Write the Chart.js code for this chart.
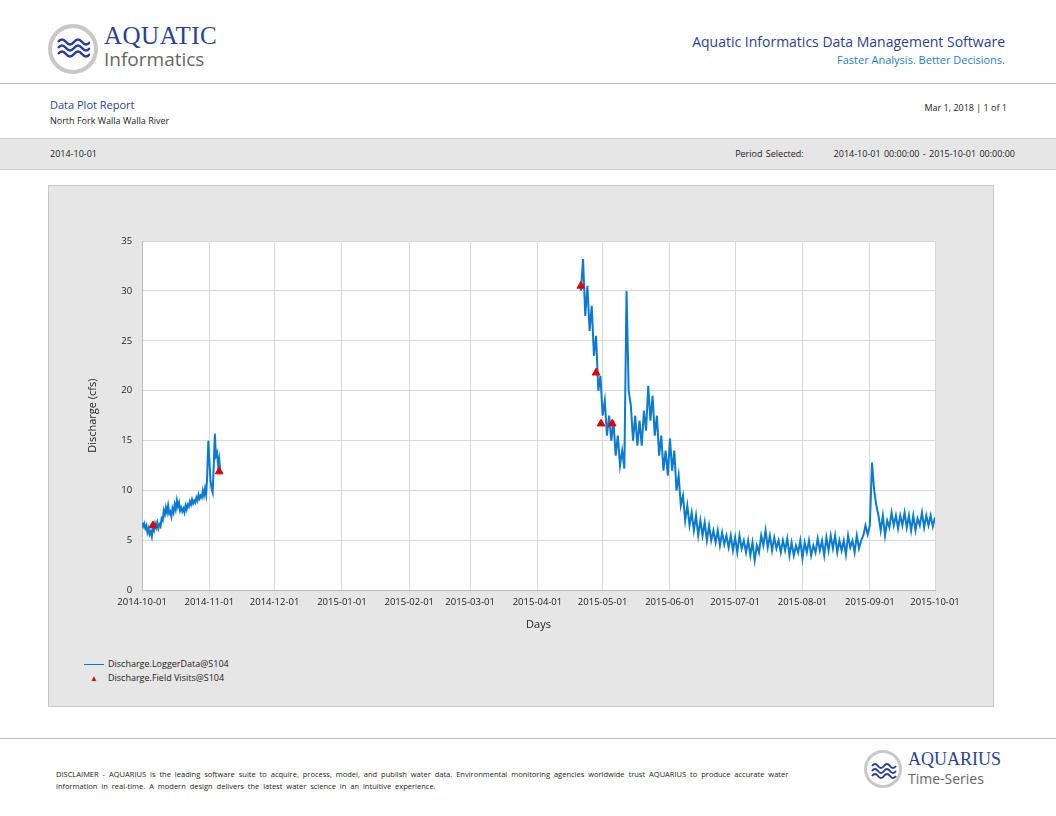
<!DOCTYPE html>
<html><head><meta charset="utf-8">
<script src="https://cdn.jsdelivr.net/npm/chart.js@4"></script>
<style>
body{margin:0;width:1056px;height:816px;background:#fff;font-family:"Open Sans",sans-serif;position:relative;overflow:hidden}
.abs{position:absolute}
.logo{border-radius:50%;border:4px solid #c8c8c8;background:#fff;box-sizing:border-box}
</style></head><body>
<div class="abs logo" style="left:48px;top:24px;width:50px;height:50px"></div>
<svg class="abs" style="left:56px;top:36px" width="34" height="24"><path d="M2 6 q4-5 8 0 t8 0 t8 0 t8 0 M2 12 q4-5 8 0 t8 0 t8 0 t8 0 M2 18 q4-5 8 0 t8 0 t8 0 t8 0" stroke="#2b3f94" stroke-width="2.5" fill="none"/></svg>
<div class="abs" style="left:104px;top:22px;font-size:25px;color:#2b3f94;font-family:'Liberation Serif',serif;letter-spacing:0.5px">AQUATIC</div>
<div class="abs" style="left:104px;top:46px;font-size:19px;color:#666;font-family:'Open Sans'">Informatics</div>
<div class="abs" style="right:51px;top:32px;font-size:14px;color:#2b3f94">Aquatic Informatics Data Management Software</div>
<div class="abs" style="right:51px;top:52px;font-size:11px;color:#1f7fc0">Faster Analysis. Better Decisions.</div>
<div class="abs" style="left:0;top:83px;width:1056px;height:1px;background:#bbb"></div>
<div class="abs" style="left:50px;top:97px;font-size:11px;color:#2b3f94">Data Plot Report</div>
<div class="abs" style="left:50px;top:114px;font-size:9px;color:#222">North Fork Walla Walla River</div>
<div class="abs" style="right:49px;top:101px;font-size:9px;color:#222">Mar 1, 2018 | 1 of 1</div>
<div class="abs" style="left:0;top:138px;width:1056px;height:30px;background:#e6e6e6;border-top:1px solid #ccc;border-bottom:1px solid #ccc"></div>
<div class="abs" style="left:50px;top:147px;font-size:9px;color:#222">2014-10-01</div>
<div class="abs" style="right:41px;top:147px;font-size:9px;color:#222;word-spacing:1px">Period Selected:&nbsp;&nbsp;&nbsp;&nbsp;&nbsp;&nbsp;&nbsp;&nbsp; 2014-10-01 00:00:00 - 2015-10-01 00:00:00</div>
<div class="abs" style="left:48px;top:185px;width:944px;height:520px;background:#e6e6e6;border:1px solid #c8c8c8"></div>
<div class="abs" style="left:49px;top:186px;width:944px;height:449px"><canvas id="c"></canvas></div>
<div class="abs" style="left:84px;top:657px;font-size:9px;color:#222"><span style="display:inline-block;width:20px;height:1px;background:#0a7bd0;vertical-align:middle;margin-right:4px"></span>Discharge.LoggerData@S104</div>
<div class="abs" style="left:84px;top:671px;font-size:9px;color:#222"><span style="display:inline-block;width:20px;text-align:center;color:#e00000;font-size:8px;margin-right:4px">▲</span>Discharge.Field Visits@S104</div>
<div class="abs" style="left:0;top:738px;width:1056px;height:1px;background:#bbb"></div>
<div class="abs" style="left:56px;top:768px;width:770px;font-size:7.5px;color:#222;line-height:12px;word-spacing:2px">DISCLAIMER - AQUARIUS is the leading software suite to acquire, process, model, and publish water data. Environmental monitoring agencies worldwide trust AQUARIUS to produce accurate water information in real-time. A modern design delivers the latest water science in an intuitive experience.</div>
<div class="abs logo" style="left:864px;top:750px;width:38px;height:38px;border-width:3px"></div>
<svg class="abs" style="left:871px;top:761px" width="26" height="18"><path d="M1 5 q3-4 6 0 t6 0 t6 0 t6 0 M1 10 q3-4 6 0 t6 0 t6 0 t6 0 M1 15 q3-4 6 0 t6 0 t6 0 t6 0" stroke="#2b3f94" stroke-width="2" fill="none"/></svg>
<div class="abs" style="left:908px;top:749px;font-size:18px;color:#2b3f94;font-family:'Liberation Serif',serif">AQUARIUS</div>
<div class="abs" style="left:908px;top:769px;font-size:14px;color:#666">Time-Series</div>
<script>
const monthTickDays=[0,31,61,92,123,151,182,212,243,273,304,335,365];
const monthTickLabels=["2014-10-01","2014-11-01","2014-12-01","2015-01-01","2015-02-01","2015-03-01","2015-04-01","2015-05-01","2015-06-01","2015-07-01","2015-08-01","2015-09-01","2015-10-01"];
const seg1Start=0, seg1Step=0.5;
const seg1Values=[6.8,6.4,6.7,6.2,6.5,5.8,6.2,5.6,5.9,5.4,6.3,6.0,6.7,6.3,6.8,6.2,6.6,6.4,7.2,7.0,8.0,7.6,8.3,7.8,8.5,7.7,7.9,7.4,8.2,7.8,8.6,8.1,9.0,8.4,8.8,8.0,8.3,7.9,8.2,7.8,8.5,8.1,8.6,8.4,8.9,8.6,9.1,8.7,9.0,8.8,9.3,9.0,9.6,9.2,9.5,9.3,10.0,9.5,10.2,9.6,11.5,15.0,13.0,11.0,10.2,9.8,12.5,15.7,13.5,13.8,12.5,13.2,11.9];
const seg2Start=202, seg2Step=1;
const seg2Values=[30.0,33.2,27.5,30.5,26.0,28.5,23.5,25.5,20.0,21.5,17.5,19.0,15.5,17.5,15.0,17.0,13.5,15.5,12.5,14.0,12.2,30.0,20.0,18.5,15.0,17.5,14.5,17.0,14.5,18.0,16.0,20.5,17.0,19.5,15.5,17.5,13.5,15.5,12.0,14.0,11.5,15.2,12.0,14.0,10.0,11.5,8.5,9.5,7.0,8.5,6.5,7.8,6.0,7.5,5.5,7.0,5.5,6.8,5.0,6.5,5.0,6.0,4.8,6.0,4.5,5.8,4.6,5.5,4.3,5.5,4.0,5.3,3.8,5.5,4.2,5.0,3.8,5.0,3.5,4.8,3.0,4.5,3.8,5.5,4.5,6.0,4.3,5.5,4.0,5.3,4.2,5.0,3.8,5.0,4.0,5.2,3.5,4.8,3.5,4.5,3.8,5.0,3.2,4.8,3.8,5.0,3.5,4.5,3.8,5.2,4.0,5.0,3.5,5.3,4.0,5.5,4.2,5.5,3.8,5.0,4.0,5.0,3.6,5.5,4.3,5.0,3.8,5.5,4.2,5.0,5.5,6.5,5.6,6.5,12.8,10.0,8.5,7.5,6.0,7.5,5.5,7.0,6.3,7.8,6.5,7.5,6.2,7.5,6.5,7.8,6.3,7.5,6.0,7.5,6.0,7.2,6.5,7.8,6.3,7.5,6.5,7.5,6.4,7.3];
const visitDays=[5,35.5,202,209,211.3,216.4];
const visitValues=[6.5,11.9,30.5,21.8,16.7,16.7];
const yTicks=[0,5,10,15,20,25,30,35];

const s1=seg1Values.map((v,i)=>({x:seg1Start+i*seg1Step,y:v}));
const s2=seg2Values.map((v,i)=>({x:seg2Start+i*seg2Step,y:v}));
const line=s1.concat([{x:100,y:null}],s2);
const pts=visitDays.map((d,i)=>({x:d,y:visitValues[i]}));
const bg={id:'bg',beforeDraw(c){const a=c.chartArea,x=c.ctx;x.save();x.fillStyle='#fff';x.fillRect(a.left,a.top,a.width,a.height);x.restore();}};
new Chart(document.getElementById('c'),{
 type:'scatter',
 data:{datasets:[
  {data:line,showLine:true,borderColor:'#0a7bd0',borderWidth:2,pointRadius:0,spanGaps:false,order:2},
  {data:pts,pointStyle:'triangle',pointRadius:4.5,backgroundColor:'#e00000',borderColor:'#e00000',order:1}
 ]},
 options:{animation:false,responsive:true,maintainAspectRatio:false,
  layout:{padding:{left:33,right:58,top:55,bottom:0}},
  plugins:{legend:{display:false},tooltip:{enabled:false}},
  scales:{
   x:{type:'linear',min:0,max:365,
     afterBuildTicks(ax){ax.ticks=monthTickDays.map(v=>({value:v}));},
     ticks:{callback:(v)=>monthTickLabels[monthTickDays.indexOf(v)],color:'#222',font:{size:9.5,family:'Open Sans'},maxRotation:0,autoSkip:false,padding:2},
     grid:{color:'#d9d9d9',tickLength:4},border:{color:'#bbb'},
     title:{display:true,text:'Days',color:'#222',font:{size:11,family:'Open Sans'},padding:{top:8}}},
   y:{min:0,max:35,
     afterBuildTicks(ax){ax.ticks=yTicks.map(v=>({value:v}));},
     ticks:{color:'#222',font:{size:9.5,family:'Open Sans'},padding:10},
     grid:{color:'#d9d9d9',tickLength:0},border:{color:'#bbb'},
     title:{display:true,text:'Discharge (cfs)',color:'#222',font:{size:11,family:'Open Sans'},padding:{bottom:12}}}
  }},
 plugins:[bg]
});
</script></body></html>
